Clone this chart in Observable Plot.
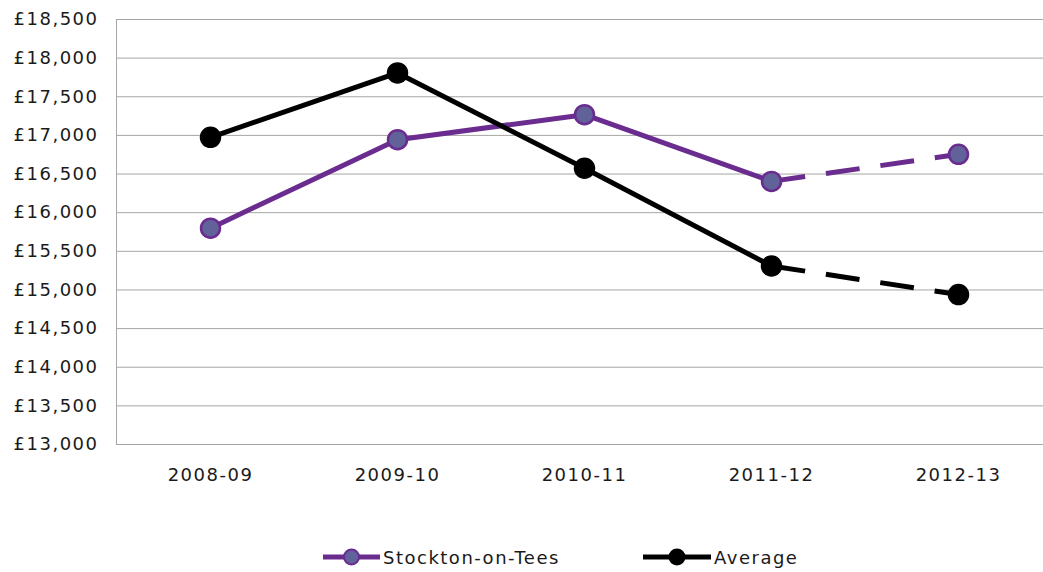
<!DOCTYPE html>
<html>
<head>
<meta charset="utf-8">
<script src="https://cdn.jsdelivr.net/npm/d3@7"></script>
<script src="https://cdn.jsdelivr.net/npm/@observablehq/plot@0.6"></script>
<style>
  html, body { margin: 0; padding: 0; background: #fff; }
  #wrap { position: relative; width: 1043px; height: 572px; font-family: "DejaVu Sans", Verdana, sans-serif; color: #1a1a1a; }
  .leg { position: absolute; top: 546px; display: flex; align-items: center; font-size: 18px; letter-spacing: 1.5px; height: 22px; }
  .leg svg { display: block; margin-right: 3px; }
</style>
</head>
<body>
<div id="wrap"></div>
<script>
const categories = ["2008-09", "2009-10", "2010-11", "2011-12", "2012-13"];
const stockton = [15800, 16945, 17268, 16405, 16755];
const average = [16975, 17808, 16575, 15310, 14940];
const yTicks = [13000, 13500, 14000, 14500, 15000, 15500, 16000, 16500, 17000, 17500, 18000, 18500];
const seriesNames = ["Stockton-on-Tees", "Average"];

const purple = "#6a2c8f";
const purpleFill = "#62629a";

function rows(name, vals) {
  return vals.map((v, i) => ({series: name, cat: categories[i], value: v, i}));
}
const sRows = rows(seriesNames[0], stockton);
const aRows = rows(seriesNames[1], average);
const lastSolid = categories.length - 2;

const plot = Plot.plot({
  width: 1043,
  height: 530,
  marginLeft: 116,
  marginRight: 0,
  marginTop: 19,
  marginBottom: 86,
  style: {fontFamily: "DejaVu Sans, Verdana, sans-serif", fontSize: "18px", color: "#1a1a1a", letterSpacing: "1.5px", background: "#fff"},
  x: {type: "point", domain: categories, range: [209, 959], padding: 0, label: null},
  y: {domain: [13000, 18500], label: null},
  marks: [
    Plot.ruleY(yTicks, {stroke: "#a6a6a6", strokeWidth: 1}),
    Plot.frame({anchor: "left", stroke: "#a6a6a6"}),
    Plot.axisY({ticks: yTicks, tickSize: 0, tickPadding: 18, tickFormat: d => "£" + d3.format(",")(d), label: null}),
    Plot.axisX({tickSize: 0, tickPadding: 24, label: null}),
    // Stockton
    Plot.line(sRows.filter(d => d.i <= lastSolid), {x: "cat", y: "value", stroke: purple, strokeWidth: 5}),
    Plot.line(sRows.filter(d => d.i >= lastSolid), {x: "cat", y: "value", stroke: purple, strokeWidth: 5, strokeDasharray: "34,21", strokeLinecap: "butt"}),
    Plot.dot(sRows, {x: "cat", y: "value", r: 9.5, fill: purpleFill, stroke: purple, strokeWidth: 2.5}),
    // Average
    Plot.line(aRows.filter(d => d.i <= lastSolid), {x: "cat", y: "value", stroke: "#000", strokeWidth: 5}),
    Plot.line(aRows.filter(d => d.i >= lastSolid), {x: "cat", y: "value", stroke: "#000", strokeWidth: 5, strokeDasharray: "34,21", strokeLinecap: "butt"}),
    Plot.dot(aRows, {x: "cat", y: "value", r: 10, fill: "#000", stroke: "#000"})
  ]
});

const wrap = document.getElementById("wrap");
wrap.appendChild(plot);

// Legend
const legendItems = [
  {name: seriesNames[0], stroke: purple, fill: purpleFill, w: 57, left: 323},
  {name: seriesNames[1], stroke: "#000", fill: "#000", w: 68, left: 643}
];
for (const it of legendItems) {
  const div = document.createElement("div");
  div.className = "leg";
  div.style.left = it.left + "px";
  const ns = "http://www.w3.org/2000/svg";
  const svg = document.createElementNS(ns, "svg");
  svg.setAttribute("width", it.w);
  svg.setAttribute("height", 22);
  const line = document.createElementNS(ns, "line");
  line.setAttribute("x1", 0); line.setAttribute("x2", it.w);
  line.setAttribute("y1", 11); line.setAttribute("y2", 11);
  line.setAttribute("stroke", it.stroke); line.setAttribute("stroke-width", 5);
  svg.appendChild(line);
  const c = document.createElementNS(ns, "circle");
  c.setAttribute("cx", it.w / 2); c.setAttribute("cy", 11); c.setAttribute("r", 7.5);
  c.setAttribute("fill", it.fill); c.setAttribute("stroke", it.stroke); c.setAttribute("stroke-width", 2);
  svg.appendChild(c);
  div.appendChild(svg);
  const span = document.createElement("span");
  span.textContent = it.name;
  div.appendChild(span);
  wrap.appendChild(div);
}
</script>
</body>
</html>
